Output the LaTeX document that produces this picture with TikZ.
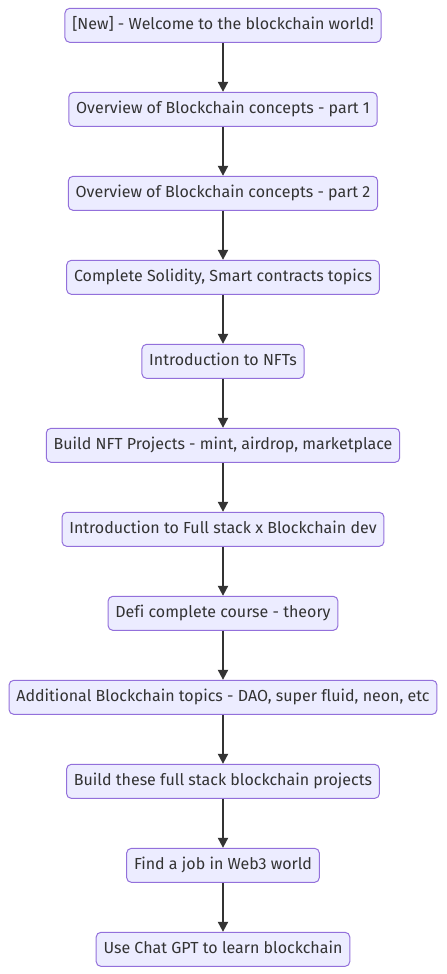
\documentclass[tikz,border=0pt]{standalone}
\usepackage{fontspec}
\setmainfont{Fira Sans}[Ligatures=NoCommon]
\usetikzlibrary{positioning}
\usetikzlibrary{arrows.meta}

\definecolor{boxfill}{HTML}{ECECFF}
\definecolor{boxline}{HTML}{9370DB}
\definecolor{ink}{HTML}{333333}

\begin{document}
\begin{tikzpicture}[
    stepbox/.style={draw=boxline, fill=boxfill, line width=0.75pt, rounded corners=3.5pt,
      minimum height=25.5pt, inner xsep=5.5pt, text height=9pt, text depth=2.5pt,
      text=ink, font=\fontsize{12pt}{14pt}\selectfont},
    flow/.style={-{Triangle[length=7.5pt,width=7.5pt]}, draw=ink, line width=1.5pt},
    node distance=36.75pt
  ]
  \useasboundingbox (0,0) rectangle (334.5pt,-730.5pt);

  % Draw the learning steps
  \node[stepbox] (welcome) at (167.25pt,-19pt) {[New] - Welcome to the blockchain world!};
  \node[stepbox, below=of welcome] (part1) {Overview of Blockchain concepts - part 1};
  \node[stepbox, below=of part1] (part2) {Overview of Blockchain concepts - part 2};
  \node[stepbox, below=of part2] (solidity) {Complete Solidity, Smart contracts topics};
  \node[stepbox, below=of solidity] (nftintro) {Introduction to NFTs};
  \node[stepbox, below=of nftintro] (nftproj) {Build NFT Projects - mint, airdrop, marketplace};
  \node[stepbox, below=of nftproj] (fullstack) {Introduction to Full stack x Blockchain dev};
  \node[stepbox, below=of fullstack] (defi) {Defi complete course - theory};
  \node[stepbox, below=of defi] (extra) {Additional Blockchain topics - DAO, super fluid, neon, etc};
  \node[stepbox, below=of extra] (projects) {Build these full stack blockchain projects};
  \node[stepbox, below=of projects] (job) {Find a job in Web3 world};
  \node[stepbox, below=of job] (chatgpt) {Use Chat GPT to learn blockchain};

  % Connect the steps
  \draw[flow] (welcome) -- (part1);
  \draw[flow] (part1) -- (part2);
  \draw[flow] (part2) -- (solidity);
  \draw[flow] (solidity) -- (nftintro);
  \draw[flow] (nftintro) -- (nftproj);
  \draw[flow] (nftproj) -- (fullstack);
  \draw[flow] (fullstack) -- (defi);
  \draw[flow] (defi) -- (extra);
  \draw[flow] (extra) -- (projects);
  \draw[flow] (projects) -- (job);
  \draw[flow] (job) -- (chatgpt);

\end{tikzpicture}
\end{document}
